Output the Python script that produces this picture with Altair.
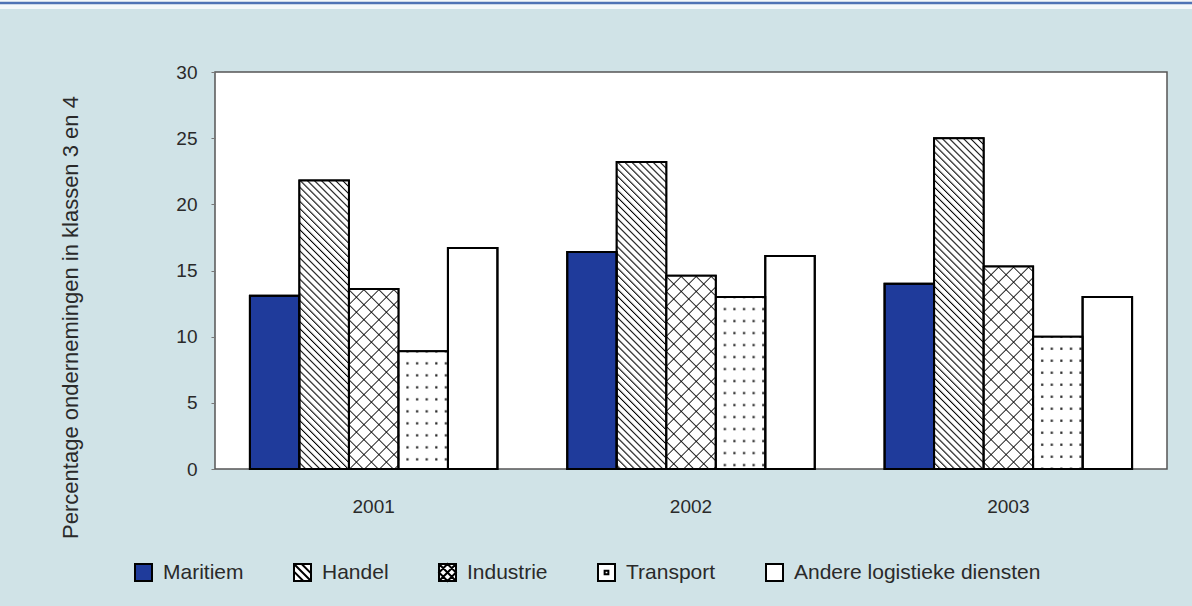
import base64
import altair as alt
import pandas as pd

years = ["2001", "2002", "2003"]
sectors = ["Maritiem", "Handel", "Industrie", "Transport", "Andere logistieke diensten"]
maritiem = [13.1, 16.4, 14.0]
handel = [21.8, 23.2, 25.0]
industrie = [13.6, 14.6, 15.3]
transport = [8.9, 13.0, 10.0]
andere = [16.7, 16.1, 13.0]
y_ticks = [0, 5, 10, 15, 20, 25, 30]

fills = ["#1f3b9b", "#ffffff", "#ffffff", "#ffffff", "#ffffff"]


def svg_uri(defs, fill="url(#p)"):
    svg = (
        "<svg xmlns='http://www.w3.org/2000/svg' width='100%' height='100%'>"
        f"<defs>{defs}</defs><rect width='100%' height='100%' fill='{fill}'/></svg>"
    )
    return "data:image/svg+xml;base64," + base64.b64encode(svg.encode()).decode()


hatch = svg_uri(
    "<pattern id='p' width='5' height='5' patternUnits='userSpaceOnUse' patternTransform='rotate(-45)'>"
    "<rect width='5' height='5' fill='white'/>"
    "<line x1='0' y1='-1' x2='0' y2='6' stroke='black' stroke-width='2.1'/></pattern>"
)
cross = svg_uri(
    "<pattern id='p' width='10.6' height='10.6' patternUnits='userSpaceOnUse' patternTransform='rotate(45)'>"
    "<rect width='10.6' height='10.6' fill='white'/>"
    "<line x1='0' y1='-1' x2='0' y2='12' stroke='black' stroke-width='1.7'/>"
    "<line x1='-1' y1='0' x2='12' y2='0' stroke='black' stroke-width='1.7'/></pattern>"
)
dots = svg_uri(
    "<pattern id='p' width='9.6' height='12' patternUnits='userSpaceOnUse' x='4' y='6'>"
    "<rect width='9.6' height='12' fill='white'/>"
    "<rect x='4' y='5' width='2.2' height='2.2' fill='#222'/></pattern>"
)
patterns = ["", hatch, cross, dots, ""]

sq = "M-1,-1H1V1H-1Z"
shapes = [
    sq,
    sq + "M-1,-1L1,1M-0.1,-1L1,0.1M-1,-0.1L0.1,1",
    sq + "M-1,-1L1,1M1,-1L-1,1M0,-1L1,0L0,1L-1,0Z",
    sq + "M-0.22,-0.22H0.22V0.22H-0.22Z",
    sq,
]

series = [maritiem, handel, industrie, transport, andere]
rows = []
for s_i, s in enumerate(sectors):
    for y_i, yr in enumerate(years):
        v = series[s_i][y_i]
        rows.append({"year": yr, "sector": s, "value": v, "half": v / 2, "pattern": patterns[s_i]})
df = pd.DataFrame(rows)

x_enc = alt.X(
    "year:N",
    sort=years,
    title=None,
    scale=alt.Scale(paddingInner=0.22, paddingOuter=0.11),
    axis=alt.Axis(
        labelAngle=0,
        labelFont="Liberation Sans",
        labelFontSize=19,
        labelColor="#2a2a2a",
        labelPadding=28,
        ticks=False,
        domain=False,
    ),
)
xoff = alt.XOffset("sector:N", sort=sectors, scale=alt.Scale(domain=sectors, paddingInner=0, paddingOuter=0))
y_scale = alt.Scale(domain=[0, 30], nice=False)
y_enc = alt.Y(
    "value:Q",
    scale=y_scale,
    title="Percentage ondernemingen in klassen 3 en 4",
    axis=alt.Axis(
        values=y_ticks,
        grid=False,
        domain=False,
        tickSize=4,
        tickColor="#777",
        labelFont="Liberation Sans",
        labelFontSize=19,
        labelColor="#2a2a2a",
        labelPadding=14,
        titleFont="Liberation Sans",
        titleFontSize=22,
        titleFontWeight="normal",
        titleColor="#2a2a2a",
        titleAngle=-90,
        titleAlign="center",
        titleBaseline="middle",
        titleX=-145,
        titleY=245,
    ),
)

deco_df = pd.DataFrame({"k": [0]})
top_white = alt.Chart(deco_df).mark_rect(color="#f4f8fa").encode(
    x=alt.value(-215), x2=alt.value(977), y=alt.value(-72), y2=alt.value(-63)
)
top_line = alt.Chart(deco_df).mark_rule(color="#4f73b5", strokeWidth=2.5).encode(
    x=alt.value(-215), x2=alt.value(977), y=alt.value(-69)
)

legend_pts = alt.Chart(df).mark_point(filled=True, opacity=1).encode(
    x=x_enc,
    xOffset=xoff,
    y=alt.Y("half:Q", scale=y_scale),
    fill=alt.Fill("sector:N", sort=sectors, scale=alt.Scale(domain=sectors, range=fills), title=None),
    shape=alt.Shape("sector:N", sort=sectors, scale=alt.Scale(domain=sectors, range=shapes), title=None),
)

bars = alt.Chart(df).mark_bar(stroke="black", strokeWidth=2).encode(
    x=x_enc,
    xOffset=xoff,
    y=y_enc,
    fill=alt.Fill("sector:N", sort=sectors, scale=alt.Scale(domain=sectors, range=fills), legend=None),
)

images = (
    alt.Chart(df)
    .transform_filter(alt.datum.pattern != "")
    .mark_image(aspect=False)
    .encode(
        x=x_enc,
        xOffset=xoff,
        y=alt.Y("value:Q", scale=y_scale),
        y2=alt.datum(0),
        url=alt.Url("pattern:N"),
    )
)

outline = alt.Chart(df).mark_bar(stroke="black", strokeWidth=2, fillOpacity=0, fill="white").encode(
    x=x_enc,
    xOffset=xoff,
    y=alt.Y("value:Q", scale=y_scale),
)

chart = (
    alt.layer(top_white, top_line, legend_pts, bars, images, outline)
    .resolve_scale(fill="independent", shape="independent")
    .resolve_legend(fill="independent", shape="independent")
    .properties(
        width=952,
        height=397,
        background="#d0e3e7",
        padding={"left": 215, "top": 72, "right": 25, "bottom": 137},
        autosize=alt.AutoSizeParams(type="none"),
    )
    .configure_view(fill="white", stroke="#555", strokeWidth=1.5)
    .configure_legend(
        orient="none",
        legendX=-82,
        legendY=490,
        direction="horizontal",
        columns=5,
        columnPadding=46,
        symbolSize=289,
        symbolStrokeWidth=2,
        symbolStrokeColor="black",
        symbolFillColor="white",
        labelFont="Liberation Sans",
        labelFontSize=21,
        labelColor="#2a2a2a",
        labelOffset=9,
        labelLimit=400,
    )
)

chart.save("out.html", embed_options={"renderer": "svg", "actions": False})
